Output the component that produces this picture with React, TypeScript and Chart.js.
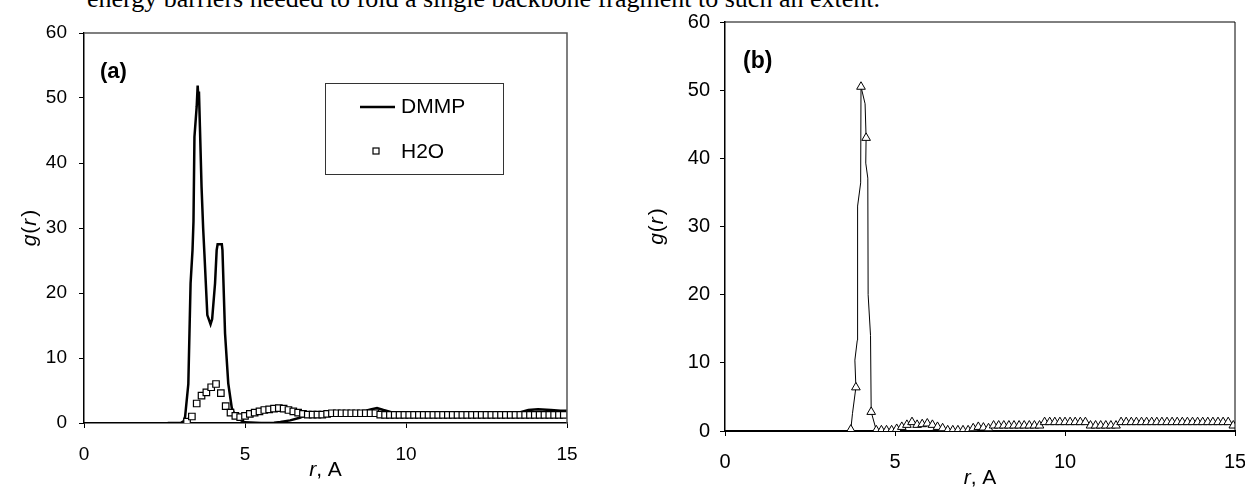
import React, { useEffect, useRef } from "react";
import { Chart, registerables } from "chart.js";

Chart.register(...registerables);

const FONT = '"Liberation Sans", Arial, sans-serif';

const PAGE_TEXT = "energy barriers needed to fold a single backbone fragment to such an extent.";
const PANEL_A = "(a)";
const PANEL_B = "(b)";
const SERIES_A1 = "DMMP";
const SERIES_A2 = "H2O";

const X_TICKS = [0, 5, 10, 15];
const Y_TICKS = [0, 10, 20, 30, 40, 50, 60];

// Panel (a): DMMP (solid line)
const DMMP_R = [2.6, 3.0, 3.1, 3.14, 3.24, 3.31, 3.37, 3.4, 3.43, 3.5, 3.53, 3.55, 3.57, 3.6, 3.65, 3.7, 3.74, 3.83, 3.93, 3.98, 4.07, 4.12, 4.15, 4.28, 4.3, 4.38, 4.48, 4.59, 4.7, 4.84, 5.0, 5.5, 5.9, 6.1, 6.4, 6.7, 6.9, 7.2, 7.6, 8.0, 8.4, 8.7, 8.9, 9.1, 9.3, 9.6, 10.0, 10.5, 11.0, 11.5, 12.0, 12.5, 13.0, 13.5, 13.8, 14.1, 14.5, 14.8, 15.0];
const DMMP_G = [0, 0, 0.3, 1.0, 6.0, 21.5, 26.6, 31, 44, 48.7, 51.9, 50.3, 51.0, 45.6, 36.4, 30, 26, 16.6, 15.2, 16, 21.5, 26.6, 27.5, 27.5, 26.6, 13.8, 6.1, 2.3, 1.0, 0.5, 0.1, 0, 0.05, 0.15, 0.4, 0.8, 1.2, 1.35, 1.4, 1.5, 1.55, 1.8, 2.1, 2.3, 2.0, 1.6, 1.5, 1.45, 1.4, 1.4, 1.4, 1.4, 1.45, 1.6, 2.0, 2.1, 2.0, 1.9, 1.9];

// Panel (a): H2O (hollow squares)
const H2O_R = [3.2, 3.35, 3.5, 3.65, 3.8, 3.95, 4.1, 4.25, 4.4, 4.55, 4.7, 4.85, 5.0, 5.15, 5.3, 5.45, 5.6, 5.75, 5.9, 6.05, 6.2, 6.35, 6.5, 6.65, 6.8, 6.95, 7.1, 7.25, 7.4, 7.55, 7.7, 7.85, 8.0, 8.15, 8.3, 8.45, 8.6, 8.75, 8.9, 9.05, 9.2, 9.35, 9.5, 9.65, 9.8, 9.95, 10.1, 10.25, 10.4, 10.55, 10.7, 10.85, 11.0, 11.15, 11.3, 11.45, 11.6, 11.75, 11.9, 12.05, 12.2, 12.35, 12.5, 12.65, 12.8, 12.95, 13.1, 13.25, 13.4, 13.55, 13.7, 13.85, 14.0, 14.15, 14.3, 14.45, 14.6, 14.75, 14.9];
const H2O_G = [0.2, 1.0, 3.0, 4.2, 4.7, 5.5, 6.0, 4.6, 2.6, 1.6, 1.1, 0.9, 1.1, 1.4, 1.6, 1.8, 2.0, 2.1, 2.2, 2.3, 2.2, 2.0, 1.8, 1.6, 1.4, 1.3, 1.3, 1.3, 1.3, 1.4, 1.5, 1.5, 1.5, 1.5, 1.5, 1.5, 1.5, 1.5, 1.5, 1.5, 1.3, 1.25, 1.25, 1.25, 1.25, 1.25, 1.25, 1.25, 1.25, 1.25, 1.25, 1.25, 1.25, 1.25, 1.25, 1.25, 1.25, 1.25, 1.25, 1.25, 1.25, 1.25, 1.25, 1.25, 1.25, 1.25, 1.25, 1.25, 1.25, 1.25, 1.25, 1.25, 1.25, 1.25, 1.25, 1.25, 1.25, 1.25, 1.25];

// Panel (b): triangle markers
const B_MARK_R = [3.7, 3.85, 4.0, 4.15, 4.3, 4.45, 4.6, 4.75, 4.9, 5.05, 5.2, 5.35, 5.5, 5.65, 5.8, 5.95, 6.1, 6.25, 6.4, 6.55, 6.7, 6.85, 7.0, 7.15, 7.3, 7.45, 7.6, 7.75, 7.9, 8.05, 8.2, 8.35, 8.5, 8.65, 8.8, 8.95, 9.1, 9.25, 9.4, 9.55, 9.7, 9.85, 10.0, 10.15, 10.3, 10.45, 10.6, 10.75, 10.9, 11.05, 11.2, 11.35, 11.5, 11.65, 11.8, 11.95, 12.1, 12.25, 12.4, 12.55, 12.7, 12.85, 13.0, 13.15, 13.3, 13.45, 13.6, 13.75, 13.9, 14.05, 14.2, 14.35, 14.5, 14.65, 14.8, 14.95];
const B_MARK_G = [0.2, 6.4, 50.5, 43.0, 2.8, 0.1, 0.1, 0.1, 0.1, 0.3, 0.6, 0.9, 1.3, 0.9, 1.0, 1.1, 0.9, 0.6, 0.4, 0.1, 0.1, 0.1, 0.1, 0.1, 0.4, 0.6, 0.5, 0.4, 0.8, 0.8, 0.8, 0.8, 0.8, 0.8, 0.8, 0.8, 0.8, 0.8, 1.3, 1.3, 1.3, 1.3, 1.3, 1.3, 1.3, 1.3, 1.3, 0.8, 0.8, 0.8, 0.8, 0.8, 0.8, 1.3, 1.3, 1.3, 1.3, 1.3, 1.3, 1.3, 1.3, 1.3, 1.3, 1.3, 1.3, 1.3, 1.3, 1.3, 1.3, 1.3, 1.3, 1.3, 1.3, 1.3, 1.3, 0.8];

// Panel (b): extra vertices of the thin line around the main peak
const B_PEAK_R = [0, 3.6, 3.7, 3.75, 3.85, 3.82, 3.89, 3.9, 3.99, 4.0, 4.12, 4.15, 4.14, 4.2, 4.21, 4.28, 4.3];
const B_PEAK_G = [0, 0, 0.2, 2.6, 6.4, 10.4, 13.3, 33.0, 36.4, 50.5, 48.0, 43.0, 39.3, 37.1, 20.0, 14.0, 2.8];

type Seg = { t: string; italic?: boolean; gap?: number };

function drawRich(ctx: CanvasRenderingContext2D, segs: Seg[], x: number, y: number, size: number, rotate: boolean) {
  ctx.save();
  ctx.translate(x, y);
  if (rotate) ctx.rotate(-Math.PI / 2);
  const fontOf = (s: Seg) => `${s.italic ? "italic " : ""}${size}px ${FONT}`;
  let total = 0;
  const widths = segs.map((s) => {
    ctx.font = fontOf(s);
    const w = ctx.measureText(s.t).width + (s.gap || 0);
    total += w;
    return w;
  });
  let cx = -total / 2;
  ctx.textBaseline = "middle";
  ctx.textAlign = "left";
  ctx.fillStyle = "#000";
  segs.forEach((s, i) => {
    ctx.font = fontOf(s);
    ctx.fillText(s.t, cx, 0);
    cx += widths[i];
  });
  ctx.restore();
}

const G_TITLE: Seg[] = [{ t: "g", italic: true, gap: 1 }, { t: "(", gap: 1 }, { t: "r", italic: true, gap: 2 }, { t: ")" }];
const R_TITLE: Seg[] = [{ t: "r", italic: true }, { t: ", A" }];

type PanelCfg = {
  frameColor: string;
  frameWidth: number;
  label: string;
  labelSize: number;
  labelDx: number;
  labelDy: number;
  titleSize: number;
  xTitleDy: number;
  yTitleX: number;
  legend?: boolean;
};

function panelPlugin(cfg: PanelCfg) {
  return {
    id: "panel",
    afterDraw(chart: any) {
      const ctx: CanvasRenderingContext2D = chart.ctx;
      const a = chart.chartArea;
      ctx.save();
      ctx.strokeStyle = cfg.frameColor;
      ctx.lineWidth = cfg.frameWidth;
      ctx.beginPath();
      ctx.moveTo(a.left, a.top);
      ctx.lineTo(a.right, a.top);
      ctx.lineTo(a.right, a.bottom);
      ctx.stroke();

      ctx.fillStyle = "#000";
      ctx.font = `bold ${cfg.labelSize}px ${FONT}`;
      ctx.textAlign = "left";
      ctx.textBaseline = "middle";
      ctx.fillText(cfg.label, a.left + cfg.labelDx, a.top + cfg.labelDy);

      if (cfg.legend) {
        const bx = a.left + 241;
        const by = a.top + 50;
        ctx.strokeStyle = "#333";
        ctx.lineWidth = 1;
        ctx.strokeRect(bx + 0.5, by + 0.5, 178, 91);
        ctx.strokeStyle = "#000";
        ctx.lineWidth = 2.5;
        ctx.beginPath();
        ctx.moveTo(bx + 35, by + 24);
        ctx.lineTo(bx + 70, by + 24);
        ctx.stroke();
        ctx.lineWidth = 1.2;
        ctx.fillStyle = "#fff";
        ctx.fillRect(bx + 48, by + 65, 6, 6);
        ctx.strokeRect(bx + 48, by + 65, 6, 6);
        ctx.fillStyle = "#000";
        ctx.font = `21px ${FONT}`;
        ctx.fillText(SERIES_A1, bx + 76, by + 24);
        ctx.fillText(SERIES_A2, bx + 76, by + 69);
      }
      ctx.restore();

      drawRich(ctx, R_TITLE, (a.left + a.right) / 2, a.bottom + cfg.xTitleDy, cfg.titleSize, false);
      drawRich(ctx, G_TITLE, cfg.yTitleX, (a.top + a.bottom) / 2, cfg.titleSize, true);
    },
  };
}

function makeScales(o: { tickSize: number; xPad: number; yPad: number; yWidth: number; xHeight: number; axisWidth: number; xAxisWidth: number }) {
  const grid = { display: true, drawOnChartArea: false, drawTicks: true, tickLength: 5, color: "#000", lineWidth: 1 };
  return {
    x: {
      type: "linear" as const,
      min: 0,
      max: 15,
      afterBuildTicks: (s: any) => {
        s.ticks = X_TICKS.map((v) => ({ value: v }));
      },
      ticks: { font: { family: FONT, size: o.tickSize }, color: "#000", padding: o.xPad, maxRotation: 0, autoSkip: false },
      grid,
      border: { display: true, color: "#000", width: o.xAxisWidth },
      afterFit: (s: any) => {
        s.height = o.xHeight;
      },
    },
    y: {
      type: "linear" as const,
      min: 0,
      max: 60,
      afterBuildTicks: (s: any) => {
        s.ticks = Y_TICKS.map((v) => ({ value: v }));
      },
      ticks: { font: { family: FONT, size: o.tickSize }, color: "#000", padding: o.yPad, autoSkip: false },
      grid,
      border: { display: true, color: "#000", width: o.axisWidth },
      afterFit: (s: any) => {
        s.width = o.yWidth;
      },
    },
  };
}

export default function App() {
  const refA = useRef<HTMLCanvasElement | null>(null);
  const refB = useRef<HTMLCanvasElement | null>(null);

  useEffect(() => {
    const dmmp = DMMP_R.map((x, i) => ({ x, y: DMMP_G[i] }));
    const h2o = H2O_R.map((x, i) => ({ x, y: H2O_G[i] }));
    const bMarks = B_MARK_R.map((x, i) => ({ x, y: B_MARK_G[i] }));
    const bLine = B_PEAK_R.map((x, i) => ({ x, y: B_PEAK_G[i] })).concat(bMarks.slice(5));

    const chartA = new Chart(refA.current as HTMLCanvasElement, {
      type: "scatter",
      data: {
        datasets: [
          { label: SERIES_A1, data: dmmp, showLine: true, borderColor: "#000", borderWidth: 2.5, pointRadius: 0, tension: 0, order: 2 } as any,
          { label: SERIES_A2, data: h2o, showLine: false, pointStyle: "rect", pointRadius: 4.6, borderWidth: 1.2, borderColor: "#000", backgroundColor: "#fff", order: 1 } as any,
        ],
      },
      options: {
        responsive: false,
        animation: false,
        devicePixelRatio: 1,
        events: [],
        layout: { padding: { left: 0, top: 33, right: 33, bottom: 0 } },
        plugins: { legend: { display: false }, tooltip: { enabled: false } },
        scales: makeScales({ tickSize: 19, xPad: 15, yPad: 12, yWidth: 84, xHeight: 66, axisWidth: 1.5, xAxisWidth: 1.5 }) as any,
      },
      plugins: [
        panelPlugin({ frameColor: "#555", frameWidth: 1.5, label: PANEL_A, labelSize: 22, labelDx: 16, labelDy: 39, titleSize: 21, xTitleDy: 47, yTitleX: 30, legend: true }),
      ],
    });

    const chartB = new Chart(refB.current as HTMLCanvasElement, {
      type: "scatter",
      data: {
        datasets: [
          { label: "line", data: bLine, showLine: true, borderColor: "#000", borderWidth: 1, pointRadius: 0, tension: 0, order: 2 } as any,
          { label: "markers", data: bMarks, showLine: false, pointStyle: "triangle", pointRadius: 5, borderWidth: 1, borderColor: "#000", backgroundColor: "#fff", order: 1 } as any,
        ],
      },
      options: {
        responsive: false,
        animation: false,
        devicePixelRatio: 1,
        events: [],
        layout: { padding: { left: 0, top: 17, right: 30, bottom: 0 } },
        plugins: { legend: { display: false }, tooltip: { enabled: false } },
        scales: makeScales({ tickSize: 20, xPad: 14, yPad: 10, yWidth: 85, xHeight: 58, axisWidth: 1.5, xAxisWidth: 2 }) as any,
      },
      plugins: [
        panelPlugin({ frameColor: "#000", frameWidth: 1, label: PANEL_B, labelSize: 23, labelDx: 18, labelDy: 40, titleSize: 21, xTitleDy: 47, yTitleX: 17 }),
      ],
    });

    return () => {
      chartA.destroy();
      chartB.destroy();
    };
  }, []);

  return (
    <div style={{ position: "absolute", left: 0, top: 0, width: 1245, height: 489, overflow: "hidden", background: "#fff" }}>
      <div
        style={{
          position: "absolute",
          left: 87,
          top: -14,
          font: '26px "Liberation Serif", "Times New Roman", serif',
          lineHeight: "26px",
          whiteSpace: "nowrap",
          color: "#000",
        }}
      >
        {PAGE_TEXT}
      </div>
      <canvas ref={refA} width={600} height={489} style={{ position: "absolute", left: 0, top: 0, width: 600, height: 489 }} />
      <canvas ref={refB} width={625} height={489} style={{ position: "absolute", left: 640, top: 0, width: 625, height: 489 }} />
    </div>
  );
}
